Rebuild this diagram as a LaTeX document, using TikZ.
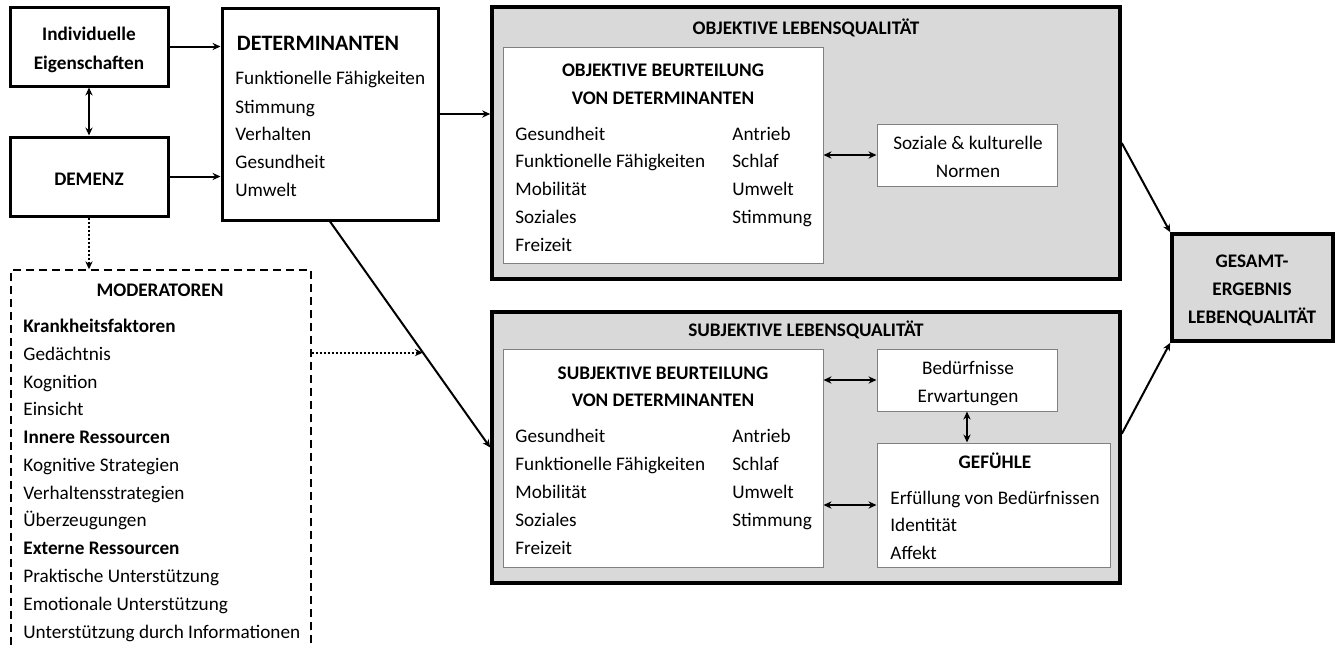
\documentclass[tikz,border=0pt]{standalone}
\usepackage{fontspec}
\setmainfont{Carlito}
\usetikzlibrary{fit,calc,arrows.meta}
\definecolor{boxgray}{HTML}{D9D9D9}
\definecolor{edgegray}{HTML}{808080}
\newcommand{\txtsize}{\fontsize{9.6pt}{12pt}\selectfont}
\tikzset{
  thickbox/.style={draw=black, line width=1.5pt, fill=white, inner sep=0pt},
  graybox/.style={draw=black, line width=1.8pt, fill=boxgray, inner sep=0pt},
  innerbox/.style={draw=edgegray, line width=0.5pt, fill=white, inner sep=0pt},
  modbox/.style={draw=black, line width=0.7pt, dash pattern=on 4pt off 2.5pt, inner sep=0pt},
  tl/.style={font=\txtsize, inner sep=0pt, anchor=base west},
  tc/.style={font=\txtsize, inner sep=0pt, anchor=base},
  hb/.style={font=\txtsize\bfseries, inner sep=0pt, anchor=base},
  hl/.style={font=\txtsize\bfseries, inner sep=0pt, anchor=base west},
  arr/.style={line width=1pt, -{Stealth[length=4pt,width=3.6pt]}},
  darr/.style={line width=1pt, {Stealth[length=4pt,width=3.6pt]}-{Stealth[length=4pt,width=3.6pt]}},
  dotarr/.style={line width=1pt, dash pattern=on 1pt off 1pt, -{Stealth[length=4pt,width=3.6pt]}},
}
\begin{document}
\begin{tikzpicture}[x=0.5pt,y=-0.5pt]
\path[use as bounding box, clip] (0,0) rectangle (1340,645);
\fill[white] (0,0) rectangle (1340,645);

% boxes
\node[thickbox, fit={(10,7) (168,86)}] (indiv) {};
\node[thickbox, fit={(10,137) (168,216)}] (demenz) {};
\node[thickbox, fit={(222,8) (438,220)}] (det) {};
\node[modbox, fit={(11,270) (311,720)}] (mod) {};
\node[graybox, fit={(492,7) (1120,279)}] (obj) {};
\node[innerbox, fit={(503,47) (823,263)}] (objin) {};
\node[innerbox, fit={(877,124) (1057,186)}] (soz) {};
\node[graybox, fit={(492,312) (1120,583)}] (sub) {};
\node[innerbox, fit={(503,349) (823,567)}] (subin) {};
\node[innerbox, fit={(877,349) (1057,411)}] (bed) {};
\node[innerbox, fit={(877,443) (1110,567)}] (gef) {};
\node[graybox, fit={(1172,234) (1333,341)}] (ges) {};

% texts
\node[hb] (t1) at (89,40) {Individuelle};
\node[hb] (t2) at (89,69) {Eigenschaften};
\node[hb] (t3) at (89,185) {DEMENZ};

\node[hb, font=\fontsize{11pt}{13pt}\selectfont\bfseries] (d0) at (318,50) {DETERMINANTEN};
\node[tl] (d1) at (235,84) {Funktionelle Fähigkeiten};
\node[tl] (d2) at (235,113) {Stimmung};
\node[tl] (d3) at (235,140) {Verhalten};
\node[tl] (d4) at (235,168) {Gesundheit};
\node[tl] (d5) at (235,196) {Umwelt};

\node[hb] (o0) at (806,34) {OBJEKTIVE LEBENSQUALITÄT};
\node[hb] (oh1) at (663,76) {OBJEKTIVE BEURTEILUNG};
\node[hb] (oh2) at (663,104) {VON DETERMINANTEN};
\node[tl] (ol1) at (515,140) {Gesundheit};
\node[tl] (ol2) at (515,167) {Funktionelle Fähigkeiten};
\node[tl] (ol3) at (515,195) {Mobilität};
\node[tl] (ol4) at (515,223) {Soziales};
\node[tl] (ol5) at (515,251) {Freizeit};
\node[tl] (or1) at (732,140) {Antrieb};
\node[tl] (or2) at (732,167) {Schlaf};
\node[tl] (or3) at (732,195) {Umwelt};
\node[tl] (or4) at (732,223) {Stimmung};
\node[tc] (s1) at (968,149) {Soziale \& kulturelle};
\node[tc] (s2) at (968,177) {Normen};

\node[hb] (u0) at (806,336) {SUBJEKTIVE LEBENSQUALITÄT};
\node[hb] (uh1) at (663,379) {SUBJEKTIVE BEURTEILUNG};
\node[hb] (uh2) at (663,406) {VON DETERMINANTEN};
\node[tl] (ul1) at (515,442) {Gesundheit};
\node[tl] (ul2) at (515,470) {Funktionelle Fähigkeiten};
\node[tl] (ul3) at (515,498) {Mobilität};
\node[tl] (ul4) at (515,526) {Soziales};
\node[tl] (ul5) at (515,554) {Freizeit};
\node[tl] (ur1) at (732,442) {Antrieb};
\node[tl] (ur2) at (732,470) {Schlaf};
\node[tl] (ur3) at (732,498) {Umwelt};
\node[tl] (ur4) at (732,526) {Stimmung};
\node[tc] (b1) at (968,374) {Bedürfnisse};
\node[tc] (b2) at (968,402) {Erwartungen};
\node[hb] (g0) at (995,468) {GEFÜHLE};
\node[tl] (g1) at (890,504) {Erfüllung von Bedürfnissen};
\node[tl] (g2) at (890,531) {Identität};
\node[tl] (g3) at (890,559) {Affekt};

\node[hb] (e1) at (1252,267) {GESAMT-};
\node[hb] (e2) at (1252,295) {ERGEBNIS};
\node[hb] (e3) at (1252,323) {LEBENQUALITÄT};

\node[hb] (m0) at (160,296) {MODERATOREN};
\node[hl] (m1) at (23,332) {Krankheitsfaktoren};
\node[tl] (m2) at (23,360) {Gedächtnis};
\node[tl] (m3) at (23,388) {Kognition};
\node[tl] (m4) at (23,415) {Einsicht};
\node[hl] (m5) at (23,443) {Innere Ressourcen};
\node[tl] (m6) at (23,471) {Kognitive Strategien};
\node[tl] (m7) at (23,499) {Verhaltensstrategien};
\node[tl] (m8) at (23,526) {Überzeugungen};
\node[hl] (m9) at (23,554) {Externe Ressourcen};
\node[tl] (m10) at (23,582) {Praktische Unterstützung};
\node[tl] (m11) at (23,610) {Emotionale Unterstützung};
\node[tl] (m12) at (23,638) {Unterstützung durch Informationen};

% connectors
\draw[arr] (indiv.east) -- (indiv.east -| det.west);
\draw[arr] (demenz.east) -- (demenz.east -| det.west);
\draw[darr] (indiv.south) -- (demenz.north);
\draw[arr] (det.east) -- (det.east -| obj.west);
\draw[arr] (det.south) -- (sub.west);
\draw[dotarr] (demenz.south) -- (demenz.south |- mod.north);
\coordinate (mx) at ($(det.south)!0.58!(sub.west)$);
\draw[dotarr] (mod.east |- mx) -- (mx);
\draw[darr] (objin.east |- soz.west) -- (soz.west);
\draw[darr] (subin.east |- bed.west) -- (bed.west);
\draw[darr] (subin.east |- gef.west) -- (gef.west);
\draw[darr] (bed.south) -- (bed.south |- gef.north);
\draw[arr] (obj.east) -- (ges.north west);
\coordinate (se) at ($(sub.north east)!0.45!(sub.south east)$);
\draw[arr] (se) -- (ges.south west);
\end{tikzpicture}
\end{document}
